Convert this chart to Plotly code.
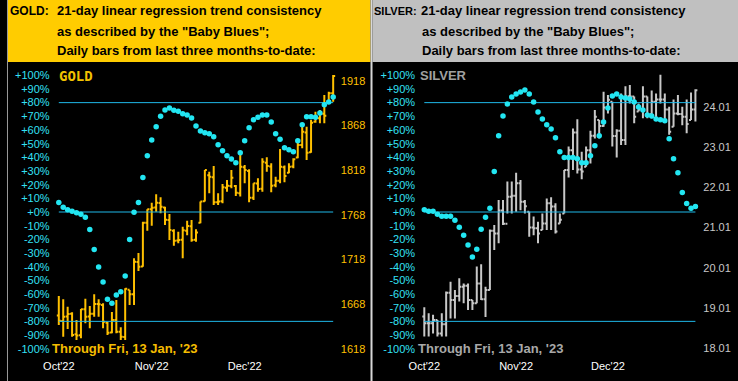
import plotly.graph_objects as go

# ---------------- DATA ----------------
month_labels = ["Oct'22", "Nov'22", "Dec'22"]
month_pos = [0, 21, 42]

pct_ticks = [100, 90, 80, 70, 60, 50, 40, 30, 20, 10, 0, -10, -20, -30, -40, -50, -60, -70, -80, -90, -100]
pct_text = ["+100%", "+90%", "+80%", "+70%", "+60%", "+50%", "+40%", "+30%", "+20%", "+10%", "+0%",
            "-10%", "-20%", "-30%", "-40%", "-50%", "-60%", "-70%", "-80%", "-90%", "-100%"]
levels = [80, 0, -80]

gold_ticks = [1618, 1668, 1718, 1768, 1818, 1868, 1918]
silver_ticks = [18.01, 19.01, 20.01, 21.01, 22.01, 23.01, 24.01]

gold_open = [1655, 1649, 1654, 1657, 1634, 1633, 1662, 1654, 1657, 1668, 1667, 1647, 1636, 1650, 1637, 1631,
             1684, 1679, 1715, 1710, 1759, 1774, 1776, 1781, 1776, 1762, 1750, 1739, 1740, 1750, 1755, 1740,
             1759, 1783, 1812, 1810, 1782, 1783, 1798, 1800, 1800, 1792, 1821, 1817, 1787, 1803, 1797, 1826,
             1822, 1801, 1806, 1821, 1815, 1822, 1832, 1846, 1860, 1838, 1872, 1876, 1881, 1895, 1904]
gold_high = [1676.9, 1673.2, 1665.0, 1658.7, 1650.1, 1662.4, 1674.0, 1665.8, 1678.8, 1673.2, 1668.7, 1647.9,
             1659.0, 1672.5, 1641.9, 1685.5, 1683.7, 1719.1, 1725.1, 1760.2, 1774.0, 1781.4, 1790.8, 1787.4,
             1776.9, 1768.8, 1751.6, 1749.0, 1754.6, 1761.3, 1762.0, 1751.6, 1782.6, 1818.0, 1816.1, 1822.5,
             1791.9, 1802.3, 1806.8, 1818.0, 1801.2, 1836.7, 1823.6, 1818.7, 1803.1, 1808.7, 1831.1, 1832.2,
             1825.5, 1810.5, 1841.5, 1822.9, 1825.5, 1831.1, 1849.7, 1870.2, 1866.5, 1874.0, 1883.3, 1885.2,
             1902.0, 1905.7, 1924.3]
gold_low = [1644.5, 1631.4, 1640.0, 1631.4, 1627.7, 1629.6, 1646.4, 1640.8, 1653.8, 1653.8, 1640.8, 1633.3,
            1635.2, 1635.2, 1627.7, 1627.7, 1666.9, 1666.9, 1704.9, 1709.8, 1750.1, 1755.7, 1771.4, 1769.5,
            1756.4, 1739.6, 1733.3, 1735.9, 1719.1, 1744.9, 1737.8, 1737.8, 1758.3, 1782.6, 1791.9, 1778.8,
            1778.8, 1780.7, 1793.7, 1797.5, 1788.9, 1788.2, 1803.1, 1781.8, 1784.4, 1793.7, 1793.7, 1816.1,
            1793.0, 1798.6, 1803.1, 1804.2, 1814.3, 1819.9, 1831.1, 1842.3, 1829.2, 1837.4, 1871.0, 1870.2,
            1870.2, 1893.4, 1894.5]
gold_close = [1649.3, 1653.8, 1656.8, 1633.3, 1632.6, 1662.0, 1653.8, 1657.2, 1668.0, 1667.6, 1648.2, 1635.9,
              1650.1, 1637.0, 1631.4, 1685.2, 1678.8, 1715.4, 1709.8, 1759.0, 1774.0, 1775.8, 1781.4, 1776.9,
              1762.4, 1750.9, 1738.9, 1739.6, 1750.5, 1755.3, 1739.6, 1747.9, 1782.6, 1818.0, 1810.5, 1781.8,
              1782.6, 1798.6, 1800.5, 1809.4, 1792.6, 1821.7, 1818.0, 1787.0, 1803.1, 1796.7, 1827.3, 1822.5,
              1800.5, 1806.1, 1821.7, 1811.3, 1821.7, 1829.9, 1846.0, 1860.9, 1837.4, 1871.0, 1875.8, 1881.4,
              1878.8, 1903.8, 1923.2]
gold_blues = [7.0, 3.4, 1.7, 0.5, -0.5, -1.7, -3.9, -12.8, -27.4, -40.2, -51.2, -63.8, -66.7, -60.8, -58.4,
              -46.8, -20.1, -0.2, 7.0, 25.2, 41.2, 52.6, 62.3, 70.1, 74.7, 76.1, 74.4, 73.7, 71.8, 71.0, 68.8,
              63.0, 59.2, 57.9, 57.2, 55.0, 49.2, 44.8, 41.2, 38.8, 36.1, 43.4, 52.1, 61.6, 67.4, 69.3, 71.0,
              71.0, 65.9, 57.2, 53.3, 47.0, 45.6, 44.1, 52.1, 63.8, 69.6, 69.6, 69.3, 72.5, 78.5, 80.5, 84.1]

silver_open = [18.80, 18.63, 18.63, 18.71, 18.38, 18.61, 19.39, 19.21, 19.31, 19.54, 19.56, 19.21, 19.13, 19.62,
               19.23, 19.46, 20.93, 20.86, 21.43, 21.10, 21.77, 21.80, 22.11, 21.65, 21.40, 21.01, 20.99, 20.95,
               21.11, 21.61, 21.53, 21.11, 21.36, 22.44, 22.93, 23.37, 22.45, 22.52, 22.93, 23.29, 23.68, 23.53,
               23.99, 24.13, 23.28, 23.41, 23.18, 24.27, 24.26, 23.89, 23.94, 24.26, 23.82, 24.13, 24.19, 24.19,
               23.94, 23.51, 23.84, 23.83, 23.76, 23.68, 23.94]
silver_high = [19.03, 18.88, 18.84, 18.71, 18.88, 19.42, 19.66, 19.46, 19.75, 19.62, 19.62, 19.21, 20.04, 20.10,
               19.54, 20.96, 21.07, 21.69, 21.69, 22.15, 22.15, 22.37, 22.19, 21.69, 21.40, 21.28, 21.15, 21.36,
               21.73, 21.76, 21.61, 21.36, 22.44, 23.02, 23.47, 23.70, 22.89, 23.02, 23.41, 23.93, 23.68, 24.38,
               24.30, 24.13, 23.45, 24.34, 24.52, 24.55, 24.26, 24.09, 24.52, 24.26, 24.41, 24.34, 24.80, 24.34,
               24.01, 24.19, 24.30, 24.01, 24.19, 24.36, 24.44]
silver_low = [18.30, 18.30, 18.38, 18.30, 18.30, 18.30, 18.75, 18.75, 19.17, 19.13, 18.96, 18.96, 19.13, 19.21,
              18.79, 19.46, 20.45, 20.62, 21.07, 21.36, 21.36, 21.40, 21.44, 21.36, 20.78, 20.82, 20.62, 20.95,
              20.95, 20.95, 20.86, 21.11, 21.36, 22.25, 22.44, 22.35, 22.21, 22.52, 22.60, 23.22, 23.22, 23.51,
              23.84, 23.02, 22.75, 23.06, 23.06, 24.09, 23.60, 23.89, 23.72, 23.72, 23.72, 23.72, 24.09, 23.68,
              23.31, 23.51, 23.80, 23.55, 23.35, 23.68, 23.64]
silver_close = [18.63, 18.63, 18.71, 18.38, 18.61, 19.39, 19.21, 19.31, 19.54, 19.56, 19.21, 19.13, 19.62, 19.23,
                19.46, 20.93, 20.86, 21.43, 21.10, 21.77, 21.80, 22.11, 21.65, 21.54, 21.01, 20.99, 20.86, 21.11,
                21.61, 21.53, 20.91, 21.20, 22.44, 22.93, 23.37, 22.45, 22.40, 22.93, 23.29, 23.76, 23.53, 23.99,
                24.18, 23.28, 23.41, 23.18, 24.27, 24.26, 23.76, 23.94, 24.26, 23.82, 24.13, 24.19, 24.19, 23.94,
                23.39, 23.84, 23.83, 23.76, 23.58, 23.94, 24.42]
silver_blues = [1.7, 0.5, 0.5, -1.7, -3.2, -3.2, -3.2, -6.1, -11.2, -17.0, -24.2, -33.0, -27.2, -12.6, -3.9, 2.7,
                29.6, 55.8, 70.3, 79.0, 84.1, 86.3, 87.8, 89.2, 86.3, 80.5, 73.2, 68.1, 63.8, 60.8, 54.3, 44.1,
                39.8, 39.8, 39.8, 39.0, 36.1, 36.1, 41.2, 48.5, 55.8, 65.9, 76.1, 84.8, 86.3, 84.1, 83.4, 82.7,
                80.5, 76.8, 74.7, 71.0, 70.3, 68.1, 67.4, 66.7, 53.6, 39.0, 28.8, 14.3, 6.3, 2.7, 4.1]

# ---------------- LAYOUT HELPERS ----------------
W, H = 738, 381
def px(x):
    return x / W
def py(y):
    return 1 - y / H

idx = list(range(len(gold_close)))
sidx = list(range(len(silver_close)))

GOLD_BAR = "#ffc000"
SILVER_BAR = "#c8c8c8"
BLUE_DOT = "#22e6f2"
BLUE_LINE = "#1fb8e8"
PCT_COL = "#33e0f5"

fig = go.Figure()

for lv in levels:
    fig.add_trace(go.Scatter(x=[idx[0], idx[-1]], y=[lv, lv], mode="lines",
                             line=dict(color=BLUE_LINE, width=1), xaxis="x", yaxis="y2",
                             hoverinfo="skip", showlegend=False))
    fig.add_trace(go.Scatter(x=[sidx[0], sidx[-1]], y=[lv, lv], mode="lines",
                             line=dict(color=BLUE_LINE, width=1), xaxis="x2", yaxis="y4",
                             hoverinfo="skip", showlegend=False))

fig.add_trace(go.Ohlc(x=idx, open=gold_open, high=gold_high, low=gold_low, close=gold_close,
                      increasing=dict(line=dict(color=GOLD_BAR, width=2)),
                      decreasing=dict(line=dict(color=GOLD_BAR, width=2)),
                      tickwidth=0.45, xaxis="x", yaxis="y", showlegend=False))
fig.add_trace(go.Ohlc(x=sidx, open=silver_open, high=silver_high, low=silver_low, close=silver_close,
                      increasing=dict(line=dict(color=SILVER_BAR, width=2)),
                      decreasing=dict(line=dict(color=SILVER_BAR, width=2)),
                      tickwidth=0.45, xaxis="x2", yaxis="y3", showlegend=False))

fig.add_trace(go.Scatter(x=idx, y=gold_blues, mode="markers",
                         marker=dict(color=BLUE_DOT, size=5.5), xaxis="x", yaxis="y2", showlegend=False))
fig.add_trace(go.Scatter(x=sidx, y=silver_blues, mode="markers",
                         marker=dict(color=BLUE_DOT, size=5.5), xaxis="x2", yaxis="y4", showlegend=False))

y_dom = [py(358), py(64)]
pct_range = [(212 - 358) / 1.367, (212 - 64) / 1.367]
gold_range = [1918 - (358 - 80.67) / 0.8933, 1918 + (80.67 - 64) / 0.8933]
silver_range = [24.01 - (358 - 106.67) / 40.27, 24.01 + (106.67 - 64) / 40.27]
gx0, gx1 = 52.3, 329.3
gstep = (gx1 - gx0) / (len(idx) - 1)
sx0, sx1 = 421.3, 695.0
sstep = (sx1 - sx0) / (len(sidx) - 1)
gdom = [44, 336]
sdom = [413, 702]

font_axis = dict(family="Liberation Sans, Arial, sans-serif", size=11)

xcommon = dict(showgrid=False, zeroline=False, showline=False, ticks="",
               tickvals=month_pos, ticktext=month_labels,
               tickfont=dict(font_axis, color="#ffffff"), rangeslider=dict(visible=False),
               fixedrange=True)
ycommon = dict(showgrid=False, zeroline=False, showline=False, ticks="", fixedrange=True)

fig.update_layout(
    width=W, height=H, autosize=False,
    margin=dict(l=0, r=0, t=0, b=0),
    paper_bgcolor="#000000", plot_bgcolor="#000000",
    showlegend=False,
    xaxis=dict(xcommon, domain=[px(gdom[0]), px(gdom[1])],
               range=[(gdom[0] - gx0) / gstep, (gdom[1] - gx0) / gstep], anchor="y"),
    yaxis=dict(ycommon, domain=y_dom, range=gold_range, side="right", anchor="x",
               tickvals=gold_ticks, ticktext=[str(v) for v in gold_ticks],
               tickfont=dict(font_axis, color=GOLD_BAR)),
    yaxis2=dict(ycommon, domain=y_dom, range=pct_range, side="left", anchor="x", overlaying="y",
                tickvals=pct_ticks, ticktext=pct_text, tickfont=dict(font_axis, color=PCT_COL)),
    xaxis2=dict(xcommon, domain=[px(sdom[0]), px(sdom[1])],
                range=[(sdom[0] - sx0) / sstep, (sdom[1] - sx0) / sstep], anchor="y3"),
    yaxis3=dict(ycommon, domain=y_dom, range=silver_range, side="right", anchor="x2",
                tickvals=silver_ticks, ticktext=["%.2f" % v for v in silver_ticks],
                tickfont=dict(font_axis, color=SILVER_BAR)),
    yaxis4=dict(ycommon, domain=y_dom, range=pct_range, side="left", anchor="x2", overlaying="y3",
                tickvals=pct_ticks, ticktext=pct_text, tickfont=dict(font_axis, color=PCT_COL)),
)

shapes = [
    dict(type="rect", xref="paper", yref="paper", x0=px(0), x1=px(367), y0=py(62), y1=py(0),
         fillcolor="#ffcc00", line=dict(width=0), layer="below"),
    dict(type="rect", xref="paper", yref="paper", x0=px(369), x1=px(738), y0=py(62), y1=py(0),
         fillcolor="#c0c0c0", line=dict(width=0), layer="below"),
    dict(type="line", xref="paper", yref="paper", x0=px(368), x1=px(368), y0=0, y1=1,
         line=dict(color="#d8d8d8", width=2)),
    dict(type="line", xref="paper", yref="paper", x0=px(0.5), x1=px(0.5), y0=0, y1=1,
         line=dict(color="#9a9a9a", width=1)),
]
fig.update_layout(shapes=shapes)

hfont = dict(family="Liberation Sans, Arial, sans-serif", size=13, color="#000000")
def ann(x, y, text, font):
    return dict(x=px(x), y=py(y), xref="paper", yref="paper", text=text, showarrow=False,
                xanchor="left", yanchor="middle", font=font, borderpad=0, borderwidth=0)

annotations = [
    ann(3, 11, "<b>GOLD:</b>", dict(hfont, size=12)),
    ann(50, 11, "<b>21-day linear regression trend consistency</b>", hfont),
    ann(50, 31, "<b>as described by the \"Baby Blues\";</b>", hfont),
    ann(50, 51, "<b>Daily bars from last three months-to-date:</b>", hfont),
    ann(371, 11, "<b>SILVER:</b>", dict(hfont, size=11)),
    ann(418, 11, "<b>21-day linear regression trend consistency</b>", hfont),
    ann(419, 31, "<b>as described by the \"Baby Blues\";</b>", hfont),
    ann(419, 51, "<b>Daily bars from last three months-to-date:</b>", hfont),
    ann(53, 76, "<b>GOLD</b>", dict(family="DejaVu Sans Mono, monospace", size=14, color="#f2c200")),
    ann(417, 76, "<b>SILVER</b>", dict(family="Liberation Sans, Arial, sans-serif", size=13, color="#a0a0a0")),
    ann(45, 348, "<b>Through Fri, 13 Jan, '23</b>",
        dict(family="Liberation Sans, Arial, sans-serif", size=13, color="#f5bd00")),
    ann(415, 348, "<b>Through Fri, 13 Jan, '23</b>",
        dict(family="Liberation Sans, Arial, sans-serif", size=13, color="#a8a8a8")),
]
fig.update_layout(annotations=annotations)

fig.write_html("out.html", config={"displayModeBar": False, "staticPlot": True},
               post_script="document.body.style.margin='0px';document.body.style.overflow='hidden';")
